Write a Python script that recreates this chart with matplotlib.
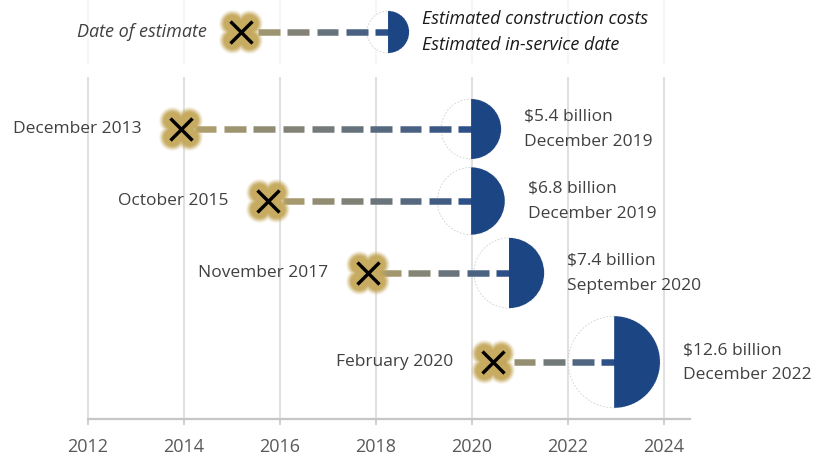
import numpy as np
import matplotlib
matplotlib.use("Agg")
import matplotlib.pyplot as plt
from matplotlib.path import Path
from matplotlib.collections import LineCollection
from matplotlib.colors import to_rgb

# ---------------- data ----------------
estimate_labels = ["December 2013", "October 2015", "November 2017", "February 2020"]
estimate_dates = [2013.94, 2015.75, 2017.83, 2020.44]
service_dates = [2019.98, 2019.98, 2020.77, 2022.96]
service_labels = ["December 2019", "December 2019", "September 2020", "December 2022"]
cost_labels = ["$5.4 billion", "$6.8 billion", "$7.4 billion", "$12.6 billion"]
costs_bn = [5.4, 6.8, 7.4, 12.6]
year_ticks = [2012, 2014, 2016, 2018, 2020, 2022, 2024]

legend_estimate = 2015.19
legend_service = 2018.25
legend_cost = 2.65

# ---------------- layout / style ----------------
W, H, DPI = 820, 457, 100
row_y = [129, 201, 273, 362]      # vertical layout (pixel rows from top)
legend_y = 32
GOLD = np.array(to_rgb("#b8a46a"))
NAVY = np.array(to_rgb("#2c4f88"))
GLOW = to_rgb("#c4a85c")
DISC = "#1c4584"
TXT = "#404040"
FONT = "Open Sans"
FS = 12.5
plt.rcParams["font.family"] = [FONT, "DejaVu Sans"]

fig = plt.figure(figsize=(W / DPI, H / DPI), dpi=DPI)
x0, x1 = 2012, 2024.54
ax = fig.add_axes([88 / W, (H - 419) / H, (690 - 88) / W, 419 / H])
ax.set_xlim(x0, x1)
ax.set_ylim(419, 0)
ppy = (690 - 88) / (x1 - x0)   # pixels per year
PT = 72 / DPI                  # points per pixel

# grid
ax.vlines(year_ticks, 77, 419, color="#dadada", lw=1.2, zorder=0)
ax.vlines(year_ticks, 0, 64, color="#f5f5f5", lw=1.2, zorder=0)

for s in ["top", "right", "left"]:
    ax.spines[s].set_visible(False)
ax.spines["bottom"].set_color("#c6c6c6")
ax.spines["bottom"].set_linewidth(1.6)
ax.set_yticks([])
ax.set_xticks(year_ticks)
ax.set_xticklabels([str(t) for t in year_ticks])
ax.tick_params(axis="x", direction="out", length=4, width=1.2, color="#c6c6c6",
               labelcolor="#595959", labelsize=13, pad=10)

half = Path.wedge(-90, 90)
K = 12.9  # px radius per sqrt(bn)

# soft glow sprite (blurred X shape)
G = 56
u, v = np.meshgrid(np.arange(G) - (G - 1) / 2, np.arange(G) - (G - 1) / 2)


def seg_dist(px, py, ax_, ay_, bx, by):
    dx, dy = bx - ax_, by - ay_
    t = np.clip(((px - ax_) * dx + (py - ay_) * dy) / (dx * dx + dy * dy), 0, 1)
    return np.hypot(px - (ax_ + t * dx), py - (ay_ + t * dy))


arm = 8.5
dist = np.minimum(seg_dist(u, v, -arm, -arm, arm, arm), seg_dist(u, v, -arm, arm, arm, -arm))
alpha = np.clip((14.5 - dist) / 7.0, 0, 1)
alpha = alpha * alpha * (3 - 2 * alpha) * 0.97
glow_img = np.zeros((G, G, 4))
glow_img[..., :3] = GLOW
glow_img[..., 3] = alpha


def draw_row(est, svc, y, cost_r_px):
    d = 2 * cost_r_px * PT
    # white left half (full circle underneath)
    ax.scatter([svc], [y], s=d ** 2, marker="o", facecolor="white",
               edgecolor="#cfcfcf", linewidths=0.6, linestyle=(0, (2, 2)), zorder=2)
    # dashed gradient connector
    dash, gap = 21.7 / ppy, 7.6 / ppy
    end = svc + 9 / ppy
    segs, cols = [], []
    se = end
    while se > est:
        ss = max(se - dash, est)
        segs.append([(ss, y), (se, y)])
        t = ((ss + se) / 2 - est) / (svc - est)
        t = min(max(t, 0), 1)
        cols.append(tuple(GOLD * (1 - t) + NAVY * t))
        se -= dash + gap
    ax.add_collection(LineCollection(segs, colors=cols, linewidths=6.5 * PT,
                                     capstyle="butt", zorder=3))
    # navy right half
    ax.scatter([svc], [y], s=d ** 2, marker=half, facecolor=DISC,
               edgecolor="none", zorder=4)
    # glow + cross
    hx = (G / 2) / ppy
    ax.imshow(glow_img, extent=(est - hx, est + hx, y + G / 2, y - G / 2),
              aspect="auto", interpolation="bilinear", zorder=5)
    ax.plot([est], [y], marker="x", ms=22 * PT, mew=3.4 * PT, color="black", zorder=6)


for est, svc, y, c in zip(estimate_dates, service_dates, row_y, costs_bn):
    draw_row(est, svc, y, K * np.sqrt(c))

for lab, est, y in zip(estimate_labels, estimate_dates, row_y):
    ax.text(est - 40 / ppy, y, lab, ha="right", va="center", fontsize=FS, color=TXT)

for clab, slab, svc, y, c in zip(cost_labels, service_labels, service_dates, row_y, costs_bn):
    r = K * np.sqrt(c)
    xt = svc + (r + 23) / ppy
    ax.text(xt, y - 12, clab, ha="left", va="center", fontsize=FS, color=TXT)
    ax.text(xt, y + 13, slab, ha="left", va="center", fontsize=FS, color=TXT)

# legend
draw_row(legend_estimate, legend_service, legend_y, K * np.sqrt(legend_cost))
ax.text(legend_estimate - 34 / ppy, legend_y, "Date of estimate", ha="right", va="center",
        fontsize=13, color="#404040", style="italic")
lx = legend_service + 34 / ppy
ax.text(lx, legend_y - 13.5, "Estimated construction costs", ha="left", va="center",
        fontsize=13, color="#1a1a1a", style="italic")
ax.text(lx, legend_y + 13.5, "Estimated in-service date", ha="left", va="center",
        fontsize=13, color="#1a1a1a", style="italic")

ax.set_xlim(x0, x1)
ax.set_ylim(419, 0)
for a in ax.collections + ax.lines + ax.texts + ax.images:
    a.set_clip_on(False)

fig.savefig("out.png", dpi=DPI)
